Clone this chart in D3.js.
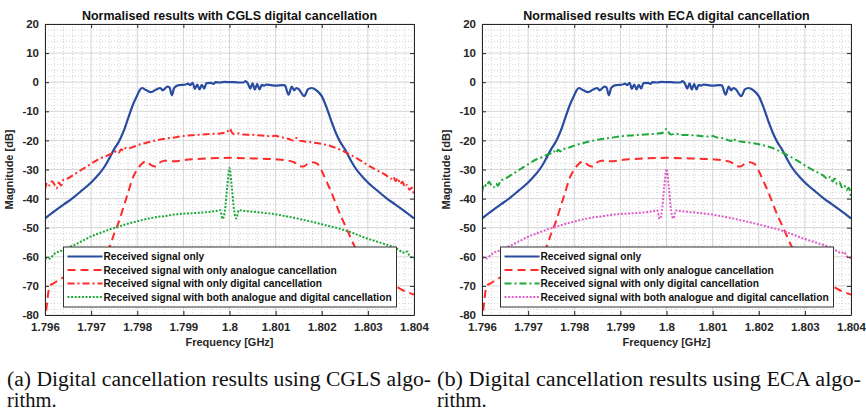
<!DOCTYPE html>
<html><head><meta charset="utf-8">
<script src="https://cdn.jsdelivr.net/npm/d3@7"></script>
<style>body{margin:0;background:#fff} svg{display:block}</style>
</head><body>
<svg id="c" width="866" height="412"></svg>
<script>
// ---------------- DATA ----------------
const xTicks = [1.796, 1.797, 1.798, 1.799, 1.8, 1.801, 1.802, 1.803, 1.804];
const xTickLabels = ["1.796", "1.797", "1.798", "1.799", "1.8", "1.801", "1.802", "1.803", "1.804"];
const yTicks = [-80, -70, -60, -50, -40, -30, -20, -10, 0, 10, 20];
const yTickLabels = ["-80", "-70", "-60", "-50", "-40", "-30", "-20", "-10", "0", "10", "20"];
const titles = ["Normalised results with CGLS digital cancellation", "Normalised results with ECA digital cancellation"];
const xLabel = "Frequency [GHz]";
const yLabel = "Magnitude [dB]";
const seriesNames = [
  "Received signal only",
  "Received signal with only analogue cancellation",
  "Received signal with only digital cancellation",
  "Received signal with both analogue and digital cancellation"
];
const captions = [
  ["(a) Digital cancellation results using CGLS algo-", "rithm."],
  ["(b) Digital cancellation results using ECA algo-", "rithm."]
];

// Received signal only
const freqRx = [1.796, 1.7962, 1.7964, 1.7966, 1.7968, 1.797, 1.7971, 1.7972, 1.7973, 1.7974, 1.7975, 1.7976, 1.7977, 1.7978, 1.7979, 1.798, 1.79805, 1.7981, 1.7982, 1.7983, 1.7984, 1.7985, 1.79855, 1.7986, 1.79865, 1.7987, 1.79875, 1.7988, 1.7989, 1.79905, 1.7991, 1.79915, 1.7992, 1.79925, 1.7993, 1.79935, 1.7994, 1.79945, 1.7995, 1.7996, 1.79965, 1.7997, 1.7998, 1.7999, 1.8, 1.8001, 1.8002, 1.8003, 1.80035, 1.8004, 1.80045, 1.8005, 1.80055, 1.8006, 1.80065, 1.8007, 1.80075, 1.8008, 1.8009, 1.801, 1.80115, 1.8012, 1.80128, 1.80135, 1.8014, 1.80145, 1.8015, 1.80162, 1.8017, 1.80178, 1.8019, 1.802, 1.8021, 1.8022, 1.8023, 1.8024, 1.8025, 1.8026, 1.8027, 1.8028, 1.8029, 1.803, 1.8032, 1.8034, 1.8036, 1.8038, 1.804];
const rxOnly = [-46.8, -44.4, -42.1, -39.8, -37.2, -34.5, -32.8, -31, -28.8, -26, -23, -20.5, -17, -12.5, -8, -4.5, -2.8, -2, -2.8, -3.4, -2.6, -2, -2.8, -2.2, -1.5, -1.8, -4.5, -2, -1, -0.8, -0.5, -1, -0.2, -2.3, -0.8, -2.5, -0.9, -2.2, -0.3, -0.2, -0.6, 0, -0.1, 0.1, 0, 0, -0.1, -0.1, 0.4, -0.5, -2.2, -0.4, -2.5, -0.6, -2.5, -0.9, -1.2, -0.8, -1, -1.2, -1, -1.1, -4.3, -1.5, -2.8, -2, -2.4, -4.8, -2.5, -2, -3, -4.8, -8.5, -13, -17.2, -20.5, -23, -26, -28.8, -31, -32.8, -34.5, -37.2, -39.8, -42.1, -44.4, -46.8];

// Received signal with only analogue cancellation
const freqAna = [1.796, 1.79605, 1.7961, 1.7962, 1.7965, 1.7968, 1.797, 1.7972, 1.7974, 1.7975, 1.7976, 1.7977, 1.7978, 1.7979, 1.798, 1.7981, 1.7982, 1.7983, 1.7984, 1.7985, 1.7986, 1.7988, 1.799, 1.7992, 1.7995, 1.8, 1.8005, 1.801, 1.8012, 1.8014, 1.8015, 1.8016, 1.8017, 1.8018, 1.8019, 1.802, 1.8021, 1.8022, 1.8023, 1.8024, 1.8025, 1.8026, 1.8027, 1.8029, 1.8032, 1.8035, 1.8037, 1.804];
const anaOnly = [-83, -75, -70, -69, -66, -63, -61, -59, -56.5, -52, -48, -43, -38, -33, -30, -28, -27.2, -28.5, -29, -27.5, -27, -27.2, -26.8, -26.5, -26.2, -26, -26.2, -26.5, -26.8, -27.5, -28.8, -29, -28, -27.5, -28, -30.5, -34, -37.5, -41.5, -45.5, -49, -52.5, -56, -60, -64, -69, -71, -73];

// CGLS: only digital cancellation
const freqDigCGLS = [1.796, 1.79605, 1.7961, 1.79615, 1.7962, 1.79625, 1.7963, 1.79635, 1.7964, 1.7965, 1.7966, 1.7967, 1.7968, 1.7969, 1.797, 1.7971, 1.7972, 1.7973, 1.7974, 1.7975, 1.79755, 1.7976, 1.79765, 1.7977, 1.79775, 1.7978, 1.7979, 1.798, 1.7982, 1.7984, 1.7986, 1.7988, 1.799, 1.7992, 1.7994, 1.7996, 1.7998, 1.79995, 1.8, 1.80005, 1.8001, 1.8002, 1.8003, 1.8005, 1.8007, 1.8009, 1.801, 1.8011, 1.8012, 1.8013, 1.8014, 1.80145, 1.8015, 1.8016, 1.8018, 1.802, 1.8022, 1.8024, 1.8026, 1.8028, 1.803, 1.8032, 1.8034, 1.8035, 1.80355, 1.8036, 1.80365, 1.8037, 1.80375, 1.8038, 1.80385, 1.8039, 1.80395, 1.804];
const digCGLS = [-37, -34.5, -35.5, -34, -35, -36.5, -34.5, -35.5, -33.5, -33, -32, -31, -30, -29, -28, -27, -26.2, -25.6, -24.8, -24.3, -23.5, -24.2, -23, -23.6, -22.6, -22.8, -22.3, -21.7, -20.8, -20, -19.4, -19, -18.5, -18.2, -18, -17.8, -17.6, -17.1, -15.9, -17.2, -17.9, -17.6, -18, -18.1, -18.3, -18.6, -18.4, -18.9, -19.1, -19.6, -20.1, -19.2, -20, -20.3, -20.7, -21.2, -22, -23.2, -24.8, -26.5, -28.5, -30.3, -32, -33.2, -32.4, -34, -33, -35, -34.2, -36, -35.2, -37, -36.2, -39];

// CGLS: both analogue and digital cancellation
const freqBothCGLS = [1.796, 1.7961, 1.7962, 1.7963, 1.7964, 1.7965, 1.7966, 1.7968, 1.797, 1.7972, 1.7974, 1.7976, 1.7978, 1.798, 1.7982, 1.7984, 1.7986, 1.7988, 1.799, 1.7992, 1.7994, 1.7996, 1.7997, 1.7998, 1.79985, 1.7999, 1.79995, 1.8, 1.80005, 1.8001, 1.80015, 1.8002, 1.8003, 1.8005, 1.8008, 1.801, 1.8012, 1.8014, 1.8016, 1.8018, 1.802, 1.8022, 1.8024, 1.8026, 1.8028, 1.803, 1.8032, 1.8034, 1.8036, 1.8038, 1.80385, 1.8039, 1.804];
const bothCGLS = [-60.4, -60.6, -59, -58.2, -57.6, -56.8, -56.2, -54.6, -53, -51.8, -50.6, -49.6, -48.6, -47.8, -47, -46.4, -46, -45.5, -45.2, -45, -44.8, -44.5, -44.3, -44, -47, -44.2, -36, -29.5, -36, -44, -46.8, -44, -44.2, -44.5, -45, -45.4, -46, -46.6, -47.3, -48, -48.8, -49.6, -50.4, -51.4, -52.6, -53.8, -54.8, -55.8, -57, -58.6, -58.2, -59.6, -60.5];

// ECA: only digital cancellation
const freqDigECA = [1.796, 1.79605, 1.7961, 1.79615, 1.7962, 1.79625, 1.7963, 1.79635, 1.7964, 1.7965, 1.7966, 1.7967, 1.7968, 1.7969, 1.797, 1.7971, 1.7972, 1.7973, 1.7974, 1.7975, 1.79755, 1.7976, 1.79765, 1.7977, 1.79775, 1.7978, 1.7979, 1.798, 1.7982, 1.7984, 1.7986, 1.7988, 1.799, 1.7992, 1.7994, 1.7996, 1.7998, 1.79995, 1.8, 1.80005, 1.8001, 1.8002, 1.8003, 1.8005, 1.8007, 1.8009, 1.801, 1.8011, 1.8012, 1.8013, 1.8014, 1.80145, 1.8015, 1.8016, 1.8018, 1.802, 1.8022, 1.8024, 1.8026, 1.8028, 1.803, 1.8032, 1.8034, 1.8035, 1.80355, 1.8036, 1.80365, 1.8037, 1.80375, 1.8038, 1.80385, 1.8039, 1.80395, 1.804];
const digECA = [-38, -35, -35.8, -34.2, -35.4, -36.2, -34.8, -35.6, -33.8, -33.2, -32.2, -31.2, -30.2, -29.2, -28.2, -27.2, -26.4, -25.8, -25, -24.4, -23.6, -24.4, -23.2, -23.8, -22.8, -22.9, -22.4, -21.8, -20.9, -20.1, -19.5, -19.1, -18.6, -18.3, -18.1, -17.9, -17.7, -17.2, -16, -17.3, -18, -17.7, -18.1, -18.2, -18.4, -18.7, -18.5, -19, -19.2, -19.7, -20.2, -19.3, -20.1, -20.4, -20.8, -21.3, -22.1, -23.3, -24.9, -26.6, -28.6, -30.4, -32.1, -33.3, -32.5, -34.1, -33.1, -35.1, -34.3, -36.1, -35.3, -37.1, -36.3, -39.5];

// ECA: both analogue and digital cancellation
const freqBothECA = [1.796, 1.7961, 1.7962, 1.7963, 1.7964, 1.7965, 1.7966, 1.7968, 1.797, 1.7972, 1.7974, 1.7976, 1.7978, 1.798, 1.7982, 1.7984, 1.7986, 1.7988, 1.799, 1.7992, 1.7994, 1.7996, 1.7997, 1.7998, 1.79985, 1.7999, 1.79995, 1.8, 1.80005, 1.8001, 1.80015, 1.8002, 1.8003, 1.8005, 1.8008, 1.801, 1.8012, 1.8014, 1.8016, 1.8018, 1.802, 1.8022, 1.8024, 1.8026, 1.8028, 1.803, 1.8032, 1.8034, 1.8036, 1.8038, 1.80385, 1.8039, 1.804];
const bothECA = [-60.2, -60.5, -59.2, -58.3, -57.7, -56.9, -56.3, -54.7, -53.1, -51.9, -50.7, -49.7, -48.7, -47.9, -47.1, -46.5, -46.1, -45.6, -45.3, -45.1, -44.9, -44.6, -44.4, -44.1, -47, -44.3, -36, -29.8, -36, -44.1, -46.9, -44.1, -44.3, -44.6, -45.1, -45.5, -46.1, -46.7, -47.4, -48.1, -48.9, -49.7, -50.5, -51.5, -52.7, -53.9, -54.9, -55.9, -57.1, -58.7, -58.3, -59.7, -60.4];

// ---------------- DRAWING ----------------
const svg = d3.select("#c");
const font = "'Liberation Sans', Arial, Helvetica, sans-serif";
const serif = "'Liberation Serif', 'Times New Roman', 'DejaVu Serif', serif";
const textCol = "#262626";

const panels = [
  {x0: 45, x1: 414, title: titles[0], caption: captions[0], capX: 7, capW: 424,
   series: [
     {f: freqRx, v: rxOnly, color: "#2a4ca0", dash: null, w: 2.2},
     {f: freqAna, v: anaOnly, color: "#ff2b2b", dash: "8,5", w: 2},
     {f: freqDigCGLS, v: digCGLS, color: "#ff2b2b", dash: "7,3,2,3", w: 2},
     {f: freqBothCGLS, v: bothCGLS, color: "#1fa83a", dash: "2,1.6", w: 2}
   ]},
  {x0: 482, x1: 851, title: titles[1], caption: captions[1], capX: 437, capW: 424,
   series: [
     {f: freqRx, v: rxOnly, color: "#2a4ca0", dash: null, w: 2.2},
     {f: freqAna, v: anaOnly, color: "#ff2b2b", dash: "8,5", w: 2},
     {f: freqDigECA, v: digECA, color: "#1fa83a", dash: "7,3,2,3", w: 2},
     {f: freqBothECA, v: bothECA, color: "#e05cc8", dash: "2,1.6", w: 2}
   ]}
];
const yTop = 24, yBot = 315;

panels.forEach((p, pi) => {
  const x = d3.scaleLinear().domain([1.796, 1.804]).range([p.x0, p.x1]);
  const y = d3.scaleLinear().domain([-80, 20]).range([yBot, yTop]);
  const g = svg.append("g");

  const clipId = "clip" + pi;
  svg.append("clipPath").attr("id", clipId).append("rect")
    .attr("x", p.x0).attr("y", yTop).attr("width", p.x1 - p.x0).attr("height", yBot - yTop);

  // minor grid
  const xMinor = d3.range(0, 41).map(i => 1.796 + i * 0.0002).filter((d, i) => i % 5 !== 0);
  const yMinor = d3.range(-80, 21, 2).filter(d => d % 10 !== 0);
  g.append("g").selectAll("line").data(xMinor).join("line")
    .attr("x1", d => x(d)).attr("x2", d => x(d)).attr("y1", yTop).attr("y2", yBot)
    .attr("stroke", "#c8c8c8").attr("stroke-width", 0.8).attr("stroke-dasharray", "1,2");
  g.append("g").selectAll("line").data(yMinor).join("line")
    .attr("x1", p.x0).attr("x2", p.x1).attr("y1", d => y(d)).attr("y2", d => y(d))
    .attr("stroke", "#c8c8c8").attr("stroke-width", 0.8).attr("stroke-dasharray", "1,2");
  // major grid
  g.append("g").selectAll("line").data(xTicks).join("line")
    .attr("x1", d => x(d)).attr("x2", d => x(d)).attr("y1", yTop).attr("y2", yBot)
    .attr("stroke", "#d6d6d6").attr("stroke-width", 1);
  g.append("g").selectAll("line").data(yTicks).join("line")
    .attr("x1", p.x0).attr("x2", p.x1).attr("y1", d => y(d)).attr("y2", d => y(d))
    .attr("stroke", "#d6d6d6").attr("stroke-width", 1);

  // series
  const lines = g.append("g").attr("clip-path", `url(#${clipId})`);
  p.series.forEach(s => {
    const pts = s.f.map((f, i) => [f, s.v[i]]);
    lines.append("path").datum(pts)
      .attr("d", d3.line().x(d => x(d[0])).y(d => y(d[1])).curve(d3.curveMonotoneX))
      .attr("fill", "none").attr("stroke", s.color).attr("stroke-width", s.w)
      .attr("stroke-linejoin", "round")
      .attr("stroke-dasharray", s.dash);
  });

  // axes (inward ticks, MATLAB style)
  const axB = d3.axisBottom(x).tickValues(xTicks).tickFormat((d, i) => xTickLabels[i]).tickSizeInner(-4).tickSizeOuter(0).tickPadding(8);
  const axT = d3.axisTop(x).tickValues(xTicks).tickFormat("").tickSizeInner(-4).tickSizeOuter(0);
  const axL = d3.axisLeft(y).tickValues(yTicks).tickFormat((d, i) => yTickLabels[i]).tickSizeInner(-4).tickSizeOuter(0).tickPadding(6);
  const axR = d3.axisRight(y).tickValues(yTicks).tickFormat("").tickSizeInner(-4).tickSizeOuter(0);
  const styleAx = sel => {
    sel.select(".domain").attr("stroke", textCol).attr("stroke-width", 1);
    sel.selectAll(".tick line").attr("stroke", textCol);
    sel.selectAll(".tick text").attr("fill", textCol).attr("font-family", font)
      .attr("font-weight", "bold").attr("font-size", "11.5px");
  };
  g.append("g").attr("transform", `translate(0,${yBot})`).call(axB).call(styleAx);
  g.append("g").attr("transform", `translate(0,${yTop})`).call(axT).call(styleAx);
  g.append("g").attr("transform", `translate(${p.x0},0)`).call(axL).call(styleAx);
  g.append("g").attr("transform", `translate(${p.x1},0)`).call(axR).call(styleAx);

  // title & axis labels
  const cx = (p.x0 + p.x1) / 2;
  g.append("text").attr("x", cx).attr("y", 19.5).attr("text-anchor", "middle")
    .attr("font-family", font).attr("font-weight", "bold").attr("font-size", "12.5px")
    .attr("fill", "#111").text(p.title);
  g.append("text").attr("x", cx).attr("y", 346).attr("text-anchor", "middle")
    .attr("font-family", font).attr("font-weight", "bold").attr("font-size", "11px")
    .attr("fill", textCol).text(xLabel);
  g.append("text").attr("transform", `translate(${p.x0 - 32},${(yTop + yBot) / 2}) rotate(-90)`)
    .attr("text-anchor", "middle")
    .attr("font-family", font).attr("font-weight", "bold").attr("font-size", "11px")
    .attr("fill", textCol).text(yLabel);

  // legend
  const lx = p.x0 + 18.5, ly = 247, lw = 333, lh = 60;
  const lg = g.append("g");
  lg.append("rect").attr("x", lx).attr("y", ly).attr("width", lw).attr("height", lh)
    .attr("fill", "#fff").attr("stroke", "#333").attr("stroke-width", 1);
  const rowY = [256.5, 270, 283.5, 297];
  p.series.forEach((s, i) => {
    lg.append("line").attr("x1", lx + 4).attr("x2", lx + 39).attr("y1", rowY[i]).attr("y2", rowY[i])
      .attr("stroke", s.color).attr("stroke-width", 2).attr("stroke-dasharray", s.dash);
    lg.append("text").attr("x", lx + 40).attr("y", rowY[i] + 3.7)
      .attr("font-family", font).attr("font-weight", "bold").attr("font-size", "10.2px")
      .attr("fill", "#111").text(seriesNames[i]);
  });

  // caption
  svg.append("text").attr("x", p.capX).attr("y", 386)
    .attr("font-family", serif).attr("font-size", "20.5px").attr("fill", "#111")
    .attr("textLength", p.capW).attr("lengthAdjust", "spacingAndGlyphs")
    .text(p.caption[0]);
  svg.append("text").attr("x", p.capX).attr("y", 407)
    .attr("font-family", serif).attr("font-size", "20.5px").attr("fill", "#111")
    .text(p.caption[1]);
});
</script>
</body></html>
